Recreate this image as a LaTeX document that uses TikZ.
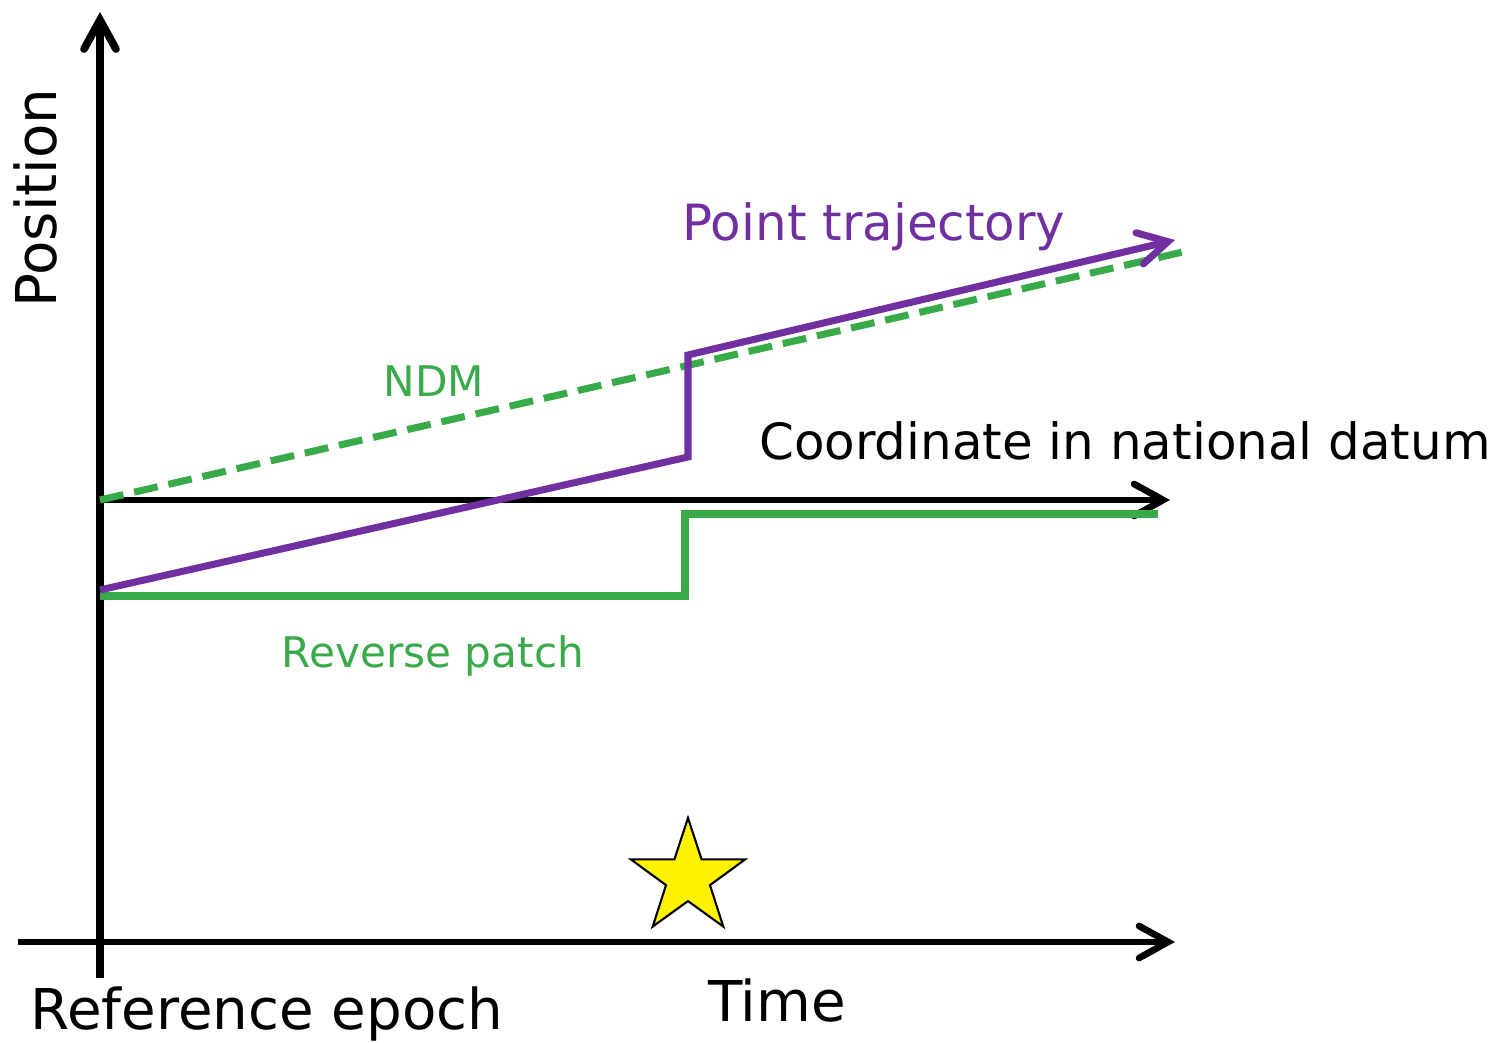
\documentclass[tikz,border=0pt]{standalone}
\usepackage{fontspec}
\setmainfont{DejaVu Sans}
\usetikzlibrary{arrows.meta,shapes.geometric}
\definecolor{trajpurple}{RGB}{112,48,160}
\definecolor{ndmgreen}{RGB}{57,170,73}

\begin{document}
\begin{tikzpicture}[x=0.01cm, y=-0.01cm,
        barb/.style={-{Straight Barb[length=0.29cm, width=0.32cm, line cap=round]}},
        axis/.style={line width=1.9pt, black, barb},
        traj/.style={line width=2pt, trajpurple},
        patch/.style={line width=2pt, ndmgreen},
        bigtext/.style={font=\fontsize{16pt}{19pt}\selectfont, anchor=base, inner sep=0pt},
        midtext/.style={font=\fontsize{14.2pt}{17pt}\selectfont, anchor=base, inner sep=0pt},
        smalltext/.style={font=\fontsize{12pt}{14pt}\selectfont, anchor=base, inner sep=0pt, text=ndmgreen}
    ]
    \useasboundingbox (0,0) rectangle (1511,1043);

    % axes
    \coordinate (origin) at (100,978);
    \coordinate (ytip) at (100,12);
    \coordinate (tstart) at (18,942);
    \coordinate (ttip) at (1175,942);
    \coordinate (ref) at (100,500);
    \coordinate (reftip) at (1170,500);
    \draw[axis, line width=2.2pt] (origin) -- (ytip);
    \draw[axis] (tstart) -- (ttip);
    \draw[axis] (ref) -- (reftip);

    % NDM
    \coordinate (ndmend) at (1183,252);
    \draw[patch, dash pattern=on 0.24cm off 0.11cm] (ref) -- (ndmend);

    % reverse patch
    \coordinate (rp0) at (100,596);
    \coordinate (rp1) at (685,596);
    \coordinate (rp2) at (685,514);
    \coordinate (rp3) at (1158,514);
    \draw[patch] (rp0) -- (rp1) -- (rp2) -- (rp3);

    % point trajectory
    \coordinate (pt0) at (100,590);
    \coordinate (pt1) at (688,457);
    \coordinate (pt2) at (688,355);
    \coordinate (pt3) at (1175,240);
    \draw[traj, barb] (pt0) -- (pt1) -- (pt2) -- (pt3);

    % event
    \node[star, star points=5, star point ratio=2.6, minimum size=1.2cm, inner sep=0pt,
          draw=black, line width=0.6pt, fill=yellow] (event) at (688,878) {};

    % labels
    \node[bigtext, rotate=90] (poslabel) at (56,198) {Position};
    \node[bigtext] (timelabel) at (777,1022) {Time};
    \node[bigtext] (reflabel) at (267,1030) {Reference epoch};
    \node[midtext] (datumlabel) at (1125,460) {Coordinate in national datum};
    \node[midtext, text=trajpurple] (trajlabel) at (874,241) {Point trajectory};
    \node[smalltext] (ndmlabel) at (434,397) {NDM};
    \node[smalltext] (patchlabel) at (433,668) {Reverse patch};
\end{tikzpicture}
\end{document}
